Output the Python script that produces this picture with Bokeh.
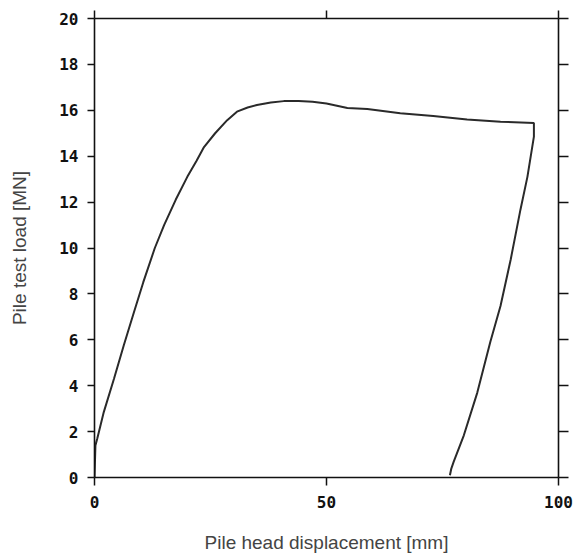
from bokeh.plotting import figure
from bokeh.models import LinearAxis, FixedTicker, Range1d
from bokeh.embed import file_html
from bokeh.resources import INLINE

# Load-displacement curve (loading then unloading)
displacement = [0.0, 0.2, 0.6, 2.0, 4.2, 6.3, 8.5, 10.5, 13.0, 15.0, 17.5, 20.0,
                22.0, 23.6, 26.0, 28.6, 30.7, 33.0, 35.0, 38.0, 40.8, 44.0,
                47.0, 50.0, 54.5, 58.8, 65.9, 73.0, 80.3, 87.5, 94.7, 94.7,
                93.3, 91.8, 89.7, 87.5, 85.3, 82.5, 79.6, 77.4, 76.9, 76.6]
load = [0.0, 1.4, 1.7, 2.85, 4.3, 5.75, 7.2, 8.5, 10.0, 11.0, 12.1, 13.1,
        13.8, 14.4, 15.0, 15.57, 15.94, 16.12, 16.23, 16.34, 16.4, 16.41,
        16.37, 16.3, 16.1, 16.06, 15.87, 15.75, 15.6, 15.5, 15.45, 14.85,
        13.1, 11.67, 9.5, 7.47, 5.9, 3.7, 1.84, 0.68, 0.39, 0.1]

x_ticks = [0, 50, 100]
y_ticks = [0, 2, 4, 6, 8, 10, 12, 14, 16, 18, 20]
x_tick_labels = {0: "0", 50: "50", 100: "100"}

p = figure(width=575, height=555, output_backend="svg", toolbar_location=None,
           x_range=Range1d(0, 100), y_range=Range1d(0, 20),
           min_border_left=94, min_border_right=17, min_border_top=18,
           min_border_bottom=76, x_axis_location=None, y_axis_location=None)
p.outline_line_color = None
p.grid.visible = False
p.background_fill_color = "white"

p.line(displacement, load, line_color="#2a2a2a", line_width=2)

tick_font = "DejaVu Sans Mono"

def style(ax, out=7):
    ax.axis_line_color = "#111111"
    ax.axis_line_width = 1.6
    ax.major_tick_line_color = "#111111"
    ax.major_tick_line_width = 1.5
    ax.major_tick_out = out
    ax.major_tick_in = 0
    ax.minor_tick_line_color = "#111111"
    ax.minor_tick_line_width = 1.5
    ax.minor_tick_out = out
    ax.minor_tick_in = 0
    ax.major_label_text_font = tick_font
    ax.major_label_text_font_style = "bold"
    ax.major_label_text_font_size = "16px"
    ax.major_label_text_color = "#111111"
    ax.major_label_standoff = 9

left = LinearAxis(ticker=FixedTicker(ticks=y_ticks))
style(left, 7)
left.axis_label = "Pile test load [MN]"
left.axis_label_text_font = "Liberation Sans"
left.axis_label_text_font_style = "normal"
left.axis_label_text_font_size = "19px"
left.axis_label_text_color = "#444444"
left.axis_label_standoff = 26
p.add_layout(left, "left")

bottom = LinearAxis(ticker=FixedTicker(ticks=x_ticks))
style(bottom, 8)
bottom.major_label_overrides = x_tick_labels
bottom.major_label_standoff = 10
bottom.axis_label = "Pile head displacement [mm]"
bottom.axis_label_text_font = "Liberation Sans"
bottom.axis_label_text_font_style = "normal"
bottom.axis_label_text_font_size = "19px"
bottom.axis_label_text_color = "#444444"
bottom.axis_label_standoff = 21
p.add_layout(bottom, "below")

# Unlabelled frame sides: ticks drawn as minor ticks so no label texts exist
right = LinearAxis(ticker=FixedTicker(ticks=[], minor_ticks=y_ticks))
style(right, 10)
p.add_layout(right, "right")

top = LinearAxis(ticker=FixedTicker(ticks=[], minor_ticks=x_ticks))
style(top, 8)
p.add_layout(top, "above")

open("out.html", "w").write(file_html(p, INLINE))
